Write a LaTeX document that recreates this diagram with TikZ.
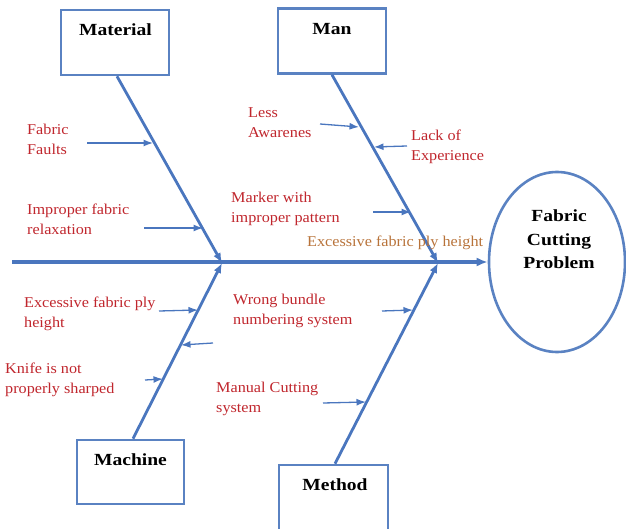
\documentclass[tikz,border=0pt]{standalone}
\usepackage{fontspec}
\setmainfont{Liberation Serif}
\newfontfamily\lblfont[FakeStretch=1.08]{Liberation Serif}
\newfontfamily\hdfont[FakeStretch=1.15]{Liberation Serif}
\usetikzlibrary{shapes.geometric,arrows.meta}
\definecolor{fbblue}{HTML}{4A76BE}
\definecolor{boxblue}{HTML}{5A82C2}
\definecolor{causered}{HTML}{C0262D}
\definecolor{spineorange}{HTML}{B8733A}
\begin{document}
\begin{tikzpicture}[x=1pt,y=-1pt,
  catbox/.style={draw=boxblue, line width=2.6pt, minimum width=108pt, minimum height=65pt, inner sep=0pt},
  cathead/.style={font=\hdfont\bfseries\fontsize{17}{20}\selectfont, text=black, anchor=base, inner sep=0pt},
  causetxt/.style={font=\lblfont\fontsize{15}{20}\selectfont, text=causered, anchor=base west, inner sep=0pt, align=left},
  bone/.style={draw=fbblue, line width=2.8pt, -{Latex[length=10pt,width=8pt]}},
  spine/.style={draw=fbblue, line width=3.2pt, -{Latex[length=11pt,width=9pt]}},
  subarrow/.style={draw=fbblue, line width=1.3pt, -{Latex[length=9.5pt,width=7pt]}}
]
\useasboundingbox (0,0) rectangle (626,529);

% category boxes
\node[catbox] (matbox) at (115,42.5) {};
\node[catbox] (manbox) at (332,41) {};
\node[catbox, minimum width=107pt, minimum height=64pt] (machbox) at (130.5,472) {};
\node[catbox, minimum width=109pt, minimum height=67pt] (methbox) at (333.5,498.5) {};
\node[cathead] (matlbl) at (115.5,36) {Material};
\node[cathead] (manlbl) at (332,35) {Man};
\node[cathead] (machlbl) at (130.5,465) {Machine};
\node[cathead] (methlbl) at (335,490) {Method};

% problem ellipse
\node[ellipse, draw=boxblue, line width=2.6pt, minimum width=136pt, minimum height=180pt, inner sep=0pt] (prob) at (557,262) {};
\node[font=\hdfont\bfseries\fontsize{17}{23.5}\selectfont, align=center, anchor=base, inner sep=0pt] (problbl) at (559,269) {Fabric\\Cutting\\Problem};

% spine and joins
\coordinate (spL) at (12,262);
\coordinate (j1) at (222,263);
\coordinate (j2) at (438,263);
\draw[spine] (spL) -- (prob.west);
\draw[bone] ([xshift=2pt]matbox.south) -- (j1);
\draw[bone] (manbox.south) -- (j2);
\draw[bone] ([xshift=2.5pt]machbox.north) -- (j1);
\draw[bone] ([xshift=1.5pt]methbox.north) -- (j2);

% sub-cause arrows
\coordinate (s1) at (87,143);   \coordinate (t1) at (153,143);
\coordinate (s2) at (144,228);  \coordinate (t2) at (203,228);
\coordinate (s3) at (320,124);  \coordinate (t3) at (359,127);
\coordinate (s4) at (407,146);  \coordinate (t4) at (374,147);
\coordinate (s5) at (373,212);  \coordinate (t5) at (411,212);
\coordinate (s6) at (159,311);  \coordinate (t6) at (198,310);
\coordinate (s7) at (213,343);  \coordinate (t7) at (181,345);
\coordinate (s8) at (145,380);  \coordinate (t8) at (163,379);
\coordinate (s9) at (382,311);  \coordinate (t9) at (413,310);
\coordinate (s10) at (323,403); \coordinate (t10) at (366,402);
\foreach \i in {1,...,10} {\draw[subarrow] (s\i) -- (t\i);}

% cause texts (anchor = baseline of last line)
\node[causetxt] (c1) at (27,155) {Fabric\\Faults};
\node[causetxt] (c2) at (27,235) {Improper fabric\\relaxation};
\node[causetxt] (c3) at (248,138) {Less\\Awarenes};
\node[causetxt] (c4) at (411,161) {Lack of\\Experience};
\node[causetxt] (c5) at (231,223) {Marker with\\improper pattern};
\node[causetxt, text=spineorange] (c6) at (307,247) {Excessive fabric ply height};
\node[causetxt] (c7) at (24,327) {Excessive fabric ply\\height};
\node[causetxt] (c8) at (5,393) {Knife is not\\properly sharped};
\node[causetxt] (c9) at (233,324) {Wrong bundle\\numbering system};
\node[causetxt] (c10) at (216,412) {Manual Cutting\\system};
\end{tikzpicture}
\end{document}
